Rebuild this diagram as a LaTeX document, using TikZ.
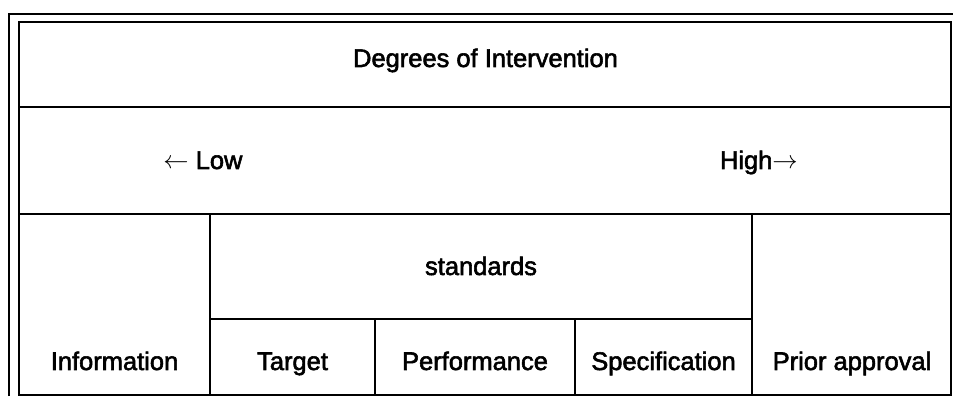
\documentclass[tikz,border=0pt]{standalone}
\usepackage{fontspec}
\setmainfont[FakeBold=2.2]{Liberation Sans}

\begin{document}
\begin{tikzpicture}[x=0.02cm, y=-0.02cm]
    % Definitions
    \coordinate (origo) at (0,0);
    \def \leftx{19}
    \def \rightx{951}
    \def \topy{22}
    \def \bottomy{395}
    \def \basey{370}
    \tikzset{
        cell/.style={line width=1.2pt, black},
        celltext/.style={anchor=base, inner sep=0pt, font=\fontsize{14.5}{17}\selectfont}
    }
    \useasboundingbox (origo) rectangle (953,398);
    %%%
    %%% Frame
    %%%
    % Outer double line (top and left)
    \draw[cell] (9,396) -- (9,14) -- (953,14);
    \draw[cell] (\leftx,\topy) rectangle (\rightx,\bottomy);
    % Rows
    \draw[cell] (\leftx,107) -- (\rightx,107);
    \draw[cell] (\leftx,214) -- (\rightx,214);
    \draw[cell] (210,319) -- (752,319);
    % Columns
    \foreach \x in {210, 752}
    {
        \draw[cell] (\x,214) -- (\x,\bottomy);
    }
    \foreach \x in {375, 575}
    {
        \draw[cell] (\x,319) -- (\x,\bottomy);
    }
    %%%
    %%% Texts
    %%%
    \node[celltext] (title) at (485.5,67) {Degrees of Intervention};
    \node[celltext, anchor=base west] (low) at (163,169) {$\leftarrow$ Low};
    \node[celltext, anchor=base east] (high) at (798,169) {High$\rightarrow$};
    \node[celltext] (standards) at (481,275) {standards};
    % Bottom row
    \node[celltext] (information) at (114.5,\basey) {Information};
    \node[celltext] (target) at (292.5,\basey) {Target};
    \node[celltext] (performance) at (475,\basey) {Performance};
    \node[celltext] (specification) at (663.5,\basey) {Specification};
    \node[celltext] (prior) at (852,\basey) {Prior approval};
\end{tikzpicture}
\end{document}
